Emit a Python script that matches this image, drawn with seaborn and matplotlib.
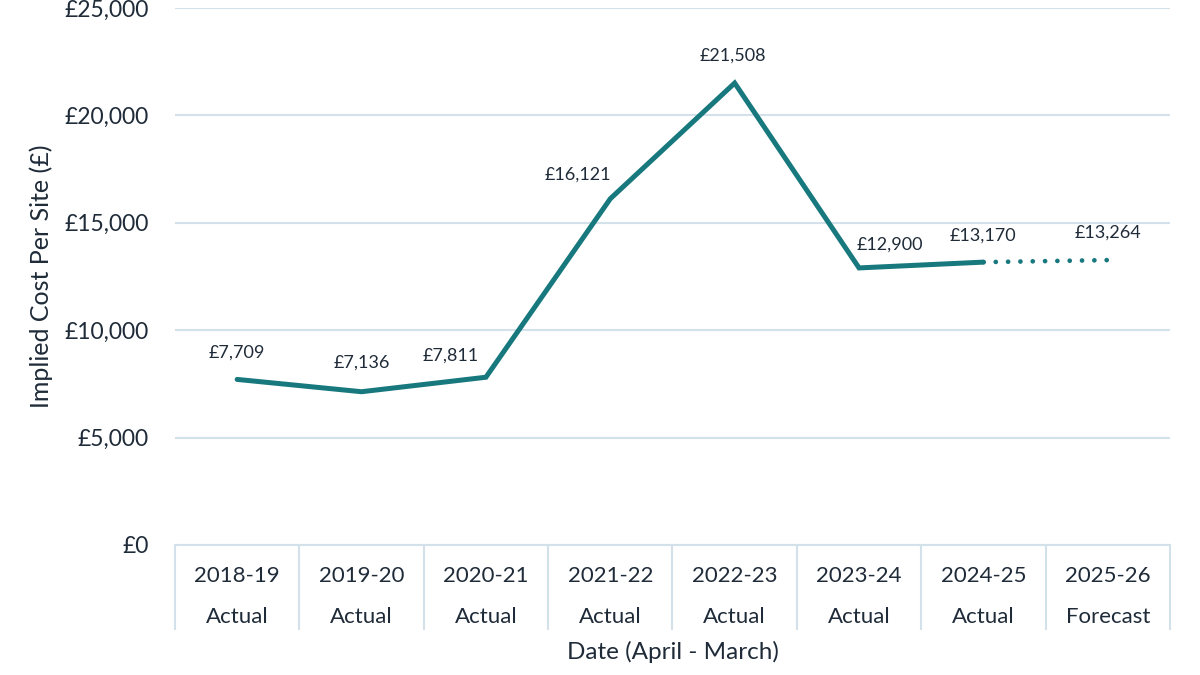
import matplotlib
matplotlib.use("Agg")
import matplotlib.pyplot as plt
import seaborn as sns
import pandas as pd
from matplotlib.ticker import FuncFormatter, FixedLocator

years = ["2018-19", "2019-20", "2020-21", "2021-22", "2022-23", "2023-24", "2024-25", "2025-26"]
status = ["Actual", "Actual", "Actual", "Actual", "Actual", "Actual", "Actual", "Forecast"]
values = [7709, 7136, 7811, 16121, 21508, 12900, 13170, 13264]
n_actual = 7

# label placement offsets (pixels) relative to each point
label_dx = [0, 0, -35, -32, -2, 31, 0, 0]
label_dy = [27, 29, 22, 24, 27, 23, 26, 27]

sns.set_theme(style="white")
plt.rcParams['font.family'] = ['Lato', 'DejaVu Sans']

TEXT = "#1f2b38"
GRID = "#d3e2ea"
LINE = "#17787d"

df = pd.DataFrame({"x": range(len(years)), "value": values})
df_act = df.iloc[:n_actual]
df_fc = df.iloc[n_actual - 1:]

fig = plt.figure(figsize=(12, 6.75), dpi=100)
ax = fig.add_axes([0.1458, 0.1926, 0.8292, 0.7955])

sns.lineplot(data=df_act, x="x", y="value", ax=ax, color=LINE, linewidth=3.6,
             solid_capstyle="round", solid_joinstyle="miter")
sns.lineplot(data=df_fc, x="x", y="value", ax=ax, color=LINE, linewidth=3.4,
             linestyle=(0, (0.01, 2.6)), dash_capstyle="round")

px = 72 / 100
for i, v in enumerate(values):
    ax.annotate(f"£{v:,}", (i, v), xytext=(label_dx[i] * px, label_dy[i] * px),
                textcoords="offset points", ha="center", va="center",
                fontsize=13, color=TEXT)

ax.set_xlim(-0.5, len(years) - 0.5)
ax.set_ylim(0, 25000)
ax.yaxis.set_major_locator(FixedLocator([0, 5000, 10000, 15000, 20000, 25000]))
ax.yaxis.set_major_formatter(FuncFormatter(lambda v, p: f"£{int(v):,}"))
ax.grid(axis="y", color=GRID, linewidth=1.5)
ax.set_axisbelow(True)

ax.set_xticks(range(len(years)))
ax.set_xticklabels([f"{y}\n{s}" for y, s in zip(years, status)], linespacing=2.35)
ax.set_xticks([i - 0.5 for i in range(len(years) + 1)], minor=True)
ax.tick_params(axis="x", which="major", bottom=True, length=0, pad=15, labelsize=16, labelcolor=TEXT)
ax.tick_params(axis="x", which="minor", bottom=True, length=61, width=1.5, color=GRID, direction="out")
ax.tick_params(axis="y", length=0, pad=19, labelsize=16.5, labelcolor=TEXT)

for s in ["top", "right", "left"]:
    ax.spines[s].set_visible(False)
ax.spines["bottom"].set_color(GRID)
ax.spines["bottom"].set_linewidth(1.5)

ax.set_xlabel("Date (April - March)", fontsize=17.5, color=TEXT, labelpad=5)
ax.set_ylabel("Implied Cost Per Site (£)", fontsize=18, color=TEXT, labelpad=8)

fig.savefig("out.png", dpi=100)
